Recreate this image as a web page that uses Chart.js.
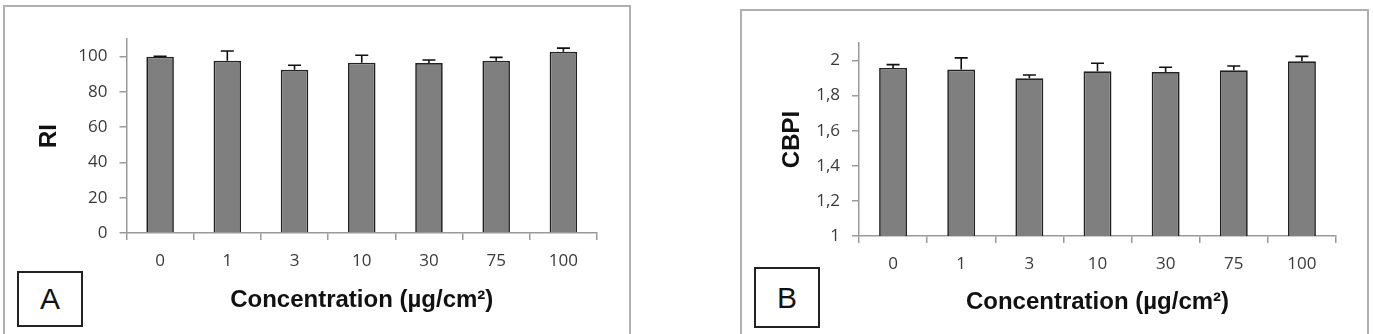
<!DOCTYPE html>
<html>
<head>
<meta charset="utf-8">
<script src="https://cdn.jsdelivr.net/npm/chart.js@4"></script>
<style>
    body { margin: 0; background: #fff; width: 1373px; height: 334px; overflow: hidden; position: relative; }
    .panel { position: absolute; border: 2px solid #b0b0b0; box-sizing: border-box; }
    .tag { position: absolute; border: 2px solid #222; box-sizing: border-box; background: #fff;
           font-family: "Liberation Sans", Arial, sans-serif; font-size: 30px; color: #111;
           display: flex; align-items: center; justify-content: center; }
    canvas { position: absolute; }
</style>
</head>
<body>
<div class="panel" style="left:3px; top:5px; width:628px; height:340px;"></div>
<div class="panel" style="left:740px; top:9px; width:629px; height:340px;"></div>
<canvas id="chartA" width="640" height="334" style="left:0; top:0;"></canvas>
<canvas id="chartB" width="643" height="334" style="left:730px; top:0;"></canvas>
<div class="tag" style="left:17px; top:271px; width:66px; height:56px;">A</div>
<div class="tag" style="left:754px; top:267px; width:66px; height:61px;">B</div>

<script>
// Concentrations (µg/cm²)
const concentrations = ['0', '1', '3', '10', '30', '75', '100'];

// Panel A - RI
const riValues = [100, 97.7, 92.6, 96.6, 96.4, 97.6, 102.7];
const riErrors = [0.2, 5.5, 2.5, 4.2, 1.7, 2.0, 2.1];

// Panel B - CBPI
const cbpiValues = [1.958, 1.949, 1.899, 1.939, 1.935, 1.945, 1.996];
const cbpiErrors = [0.019, 0.066, 0.019, 0.046, 0.027, 0.024, 0.028];

const tickFont = { family: '"Open Sans", sans-serif', size: 17 };
const titleFont = { family: '"Liberation Sans", Arial, sans-serif', size: 24, weight: 'bold', lineHeight: 1 };
const axisGrey = '#9a9a9a';

// upper error bars with a cap
const errorBarPlugin = {
    id: 'errorBars',
    afterDatasetsDraw(chart, args, opts) {
        const { ctx } = chart;
        const yScale = chart.scales.y;
        const meta = chart.getDatasetMeta(0);
        const values = chart.data.datasets[0].data;
        ctx.save();
        ctx.strokeStyle = '#111';
        ctx.lineWidth = 1.6;
        meta.data.forEach((bar, i) => {
            const yTop = yScale.getPixelForValue(values[i] + opts.errors[i]);
            ctx.beginPath();
            ctx.moveTo(bar.x, bar.y);
            ctx.lineTo(bar.x, yTop);
            ctx.moveTo(bar.x - 6.5, yTop);
            ctx.lineTo(bar.x + 6.5, yTop);
            ctx.stroke();
        });
        ctx.restore();
    }
};

function buildChart(canvasId, values, errors, cfg) {
    const ctx = document.getElementById(canvasId).getContext('2d');
    return new Chart(ctx, {
        type: 'bar',
        data: {
            labels: concentrations,
            datasets: [{
                data: values,
                backgroundColor: '#7f7f7f',
                borderColor: '#222',
                borderWidth: 1.7,
                borderSkipped: 'bottom',
                barPercentage: 0.41,
                categoryPercentage: 1
            }]
        },
        options: {
            responsive: false,
            animation: false,
            devicePixelRatio: 1,
            layout: { padding: cfg.padding },
            plugins: {
                legend: { display: false },
                tooltip: { enabled: false },
                errorBars: { errors: errors }
            },
            scales: {
                x: {
                    grid: { drawOnChartArea: false, drawTicks: true, tickLength: 7, color: axisGrey, lineWidth: 1.5, offset: true },
                    border: { color: axisGrey, width: 1.5 },
                    ticks: { font: tickFont, color: '#3a3a3a', padding: 11, maxRotation: 0 },
                    title: { display: true, text: 'Concentration (µg/cm²)', font: titleFont, color: '#111', padding: 0 },
                    afterFit: (scale) => { scale.height = cfg.xHeight; }
                },
                y: {
                    min: cfg.min,
                    max: cfg.max,
                    grid: { drawOnChartArea: false, drawTicks: true, tickLength: 7, color: axisGrey, lineWidth: 1.5 },
                    border: { color: axisGrey, width: 1.5 },
                    ticks: {
                        stepSize: cfg.step,
                        includeBounds: false,
                        font: tickFont,
                        color: '#3a3a3a',
                        padding: 12,
                        callback: cfg.format
                    },
                    title: { display: true, text: cfg.yTitle, font: titleFont, color: '#111', padding: 0 },
                    afterFit: (scale) => { scale.width = cfg.yWidth; }
                }
            }
        },
        plugins: [errorBarPlugin]
    });
}

buildChart('chartA', riValues, riErrors, {
    min: 0, max: 110, step: 20, yTitle: 'RI',
    format: (v) => String(Math.round(v)),
    padding: { left: 37, right: 43, top: 39, bottom: 22 },
    yWidth: 89.5, xHeight: 79
});

buildChart('chartB', cbpiValues, cbpiErrors, {
    min: 1, max: 2.1, step: 0.2, yTitle: 'CBPI',
    format: (v) => String(Math.round(v * 10) / 10).replace('.', ','),
    padding: { left: 50, right: 37, top: 43, bottom: 20 },
    yWidth: 79, xHeight: 78
});
</script>
</body>
</html>
